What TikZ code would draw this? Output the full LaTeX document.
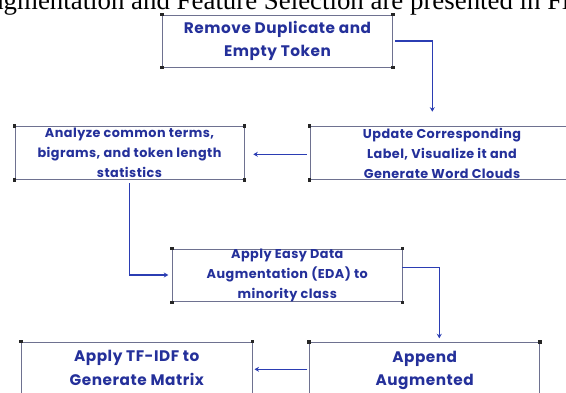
\documentclass[tikz,border=0pt]{standalone}
\usepackage{fontspec}
\setmainfont{Liberation Serif}
\newfontfamily\boxfont[LetterSpace=3.5]{Poppins}
\usetikzlibrary{arrows.meta,calc}
\definecolor{ink}{HTML}{24309A}
\definecolor{flow}{HTML}{2B3DB3}
\definecolor{frame}{HTML}{6E7190}
\begin{document}
\begin{tikzpicture}[x=1pt,y=-1pt,
  stepbox/.style={draw=frame, line width=0.9pt, inner sep=0pt, align=center, text=ink},
  bigtext/.style={font=\boxfont\bfseries\fontsize{15.3}{23.4}\selectfont},
  smalltext/.style={font=\boxfont\bfseries\fontsize{12.8}{20}\selectfont},
  flowline/.style={draw=flow, line width=1.5pt, -{Stealth[length=4.5pt,width=5pt]}},
  handle/.style={fill=black!85}]
\useasboundingbox (0,0) rectangle (566,392);
\clip (0,0) rectangle (566,392);

% running text of the page above the figure
\node[anchor=base west, inner sep=0pt, font=\fontsize{26.85}{30}\selectfont] (caption) at (-29.3,9.3)
  {Augmentation and Feature Selection are presented in Figure};

% process boxes
\node[stepbox, bigtext, minimum width=230pt, minimum height=52pt] (dedup) at (277.5,41)
  {Remove Duplicate and\\Empty Token};
\node[stepbox, smalltext, minimum width=229pt, minimum height=52.6pt] (analyze) at (129.5,153)
  {Analyze common terms,\\bigrams, and token length\\statistics};
\node[stepbox, smalltext, minimum width=264pt, minimum height=52.6pt] (update) at (442,153)
  {Update Corresponding\\Label, Visualize it and\\Generate Word Clouds};
\node[stepbox, smalltext, minimum width=229.3pt, minimum height=52.4pt] (eda) at (287.3,275.5)
  {Apply Easy Data\\Augmentation (EDA) to\\minority class};
\node[stepbox, bigtext, minimum width=230.3pt, minimum height=79pt] (tfidf) at (136.8,381.5)
  {Apply TF-IDF to\\Generate Matrix\\\vphantom{Ag}};
\node[stepbox, bigtext, minimum width=230pt, minimum height=79pt] (append) at (424.7,382.2)
  {Append\\Augmented\\\vphantom{Ag}};

% corner handles
\foreach \n in {dedup,analyze,update,eda,tfidf,append}
  \foreach \a in {north west,north east,south west,south east}
    \fill[handle] (\n.\a) +(-1.8,-1.8) rectangle +(1.8,1.8);

% connectors
\coordinate (k1) at (432.3,111.7);
\draw[flowline] ([xshift=2.2pt]dedup.east) -| (k1);
\coordinate (k2) at (253.3,154.3);
\draw[flowline] ($(update.west |- k2)+(-2.7,0)$) -- (k2);
\coordinate (k3) at (168.3,275);
\draw[flowline] ([yshift=-3.4pt]analyze.south) |- (k3);
\coordinate (k4) at (439.3,338.3);
\draw[flowline] ([yshift=7.8pt]eda.east) -| (k4);
\coordinate (k5) at (254.5,369.3);
\draw[flowline] ($(append.west |- k5)+(-2,0)$) -- (k5);
\end{tikzpicture}
\end{document}
